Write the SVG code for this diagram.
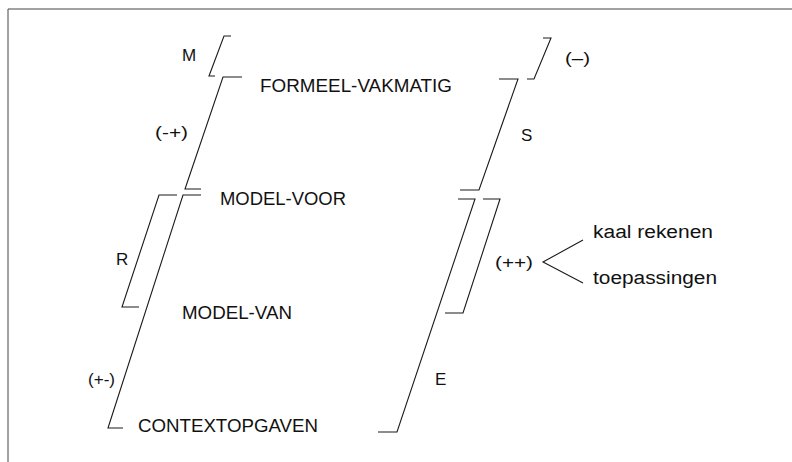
<svg xmlns="http://www.w3.org/2000/svg" width="792" height="462" viewBox="0 0 792 462">
<style>
  .t { font-family: "Liberation Sans", Arial, sans-serif; font-size: 18px; fill: #111; }
  .l { font-family: "Liberation Sans", Arial, sans-serif; font-size: 17px; fill: #111; }
  .b { fill: none; stroke: #1a1a1a; stroke-width: 1.1; stroke-linejoin: miter; }
  .f { fill: none; stroke: #444; stroke-width: 1; }
</style>
<rect width="792" height="462" fill="#ffffff"/>
<g id="frame">
  <polyline class="f" points="8,462 8,9 792,9"/>
</g>
<g id="connectors">
  <polyline class="b" points="231,36 224,36 209,76 215,76"/>
  <polyline class="b" points="242,77 223,77 185,189 201,189"/>
  <polyline class="b" points="177,195 159,195 122,307 139,307"/>
  <polyline class="b" points="201,195 183,195 108,428 123,428"/>
  <polyline class="b" points="543,38 551,38 534,79 527,79"/>
  <polyline class="b" points="499,79 518,79 479,190 460,190"/>
  <polyline class="b" points="483,199 500,199 463,313 445,313"/>
  <polyline class="b" points="458,199 475,199 397,432 378,432"/>
  <polyline class="b" points="583,240 543,262 583,283"/>
</g>
<g id="formeel-vakmatig"><text class="t" x="260" y="92" textLength="192" lengthAdjust="spacingAndGlyphs">FORMEEL-VAKMATIG</text></g>
<g id="model-voor"><text class="t" x="220" y="205" textLength="126" lengthAdjust="spacingAndGlyphs">MODEL-VOOR</text></g>
<g id="model-van"><text class="t" x="182" y="319" textLength="110" lengthAdjust="spacingAndGlyphs">MODEL-VAN</text></g>
<g id="contextopgaven"><text class="t" x="138" y="432" textLength="180" lengthAdjust="spacingAndGlyphs">CONTEXTOPGAVEN</text></g>
<g id="label-m"><text class="l" x="182" y="61">M</text></g>
<g id="label-minplus"><text class="l" x="155" y="138" textLength="33" lengthAdjust="spacingAndGlyphs">(-+)</text></g>
<g id="label-minmin"><text class="l" x="565" y="64" textLength="25" lengthAdjust="spacingAndGlyphs">(–)</text></g>
<g id="label-s"><text class="l" x="521" y="141">S</text></g>
<g id="label-r"><text class="l" x="116" y="265">R</text></g>
<g id="label-plusplus"><text class="l" x="495" y="268" textLength="38" lengthAdjust="spacingAndGlyphs">(++)</text></g>
<g id="label-plusmin"><text class="l" x="88" y="385" textLength="27" lengthAdjust="spacingAndGlyphs">(+-)</text></g>
<g id="label-e"><text class="l" x="435" y="385">E</text></g>
<g id="kaal-rekenen"><text class="t" x="593" y="238" textLength="120" lengthAdjust="spacingAndGlyphs">kaal rekenen</text></g>
<g id="toepassingen"><text class="t" x="593" y="284" textLength="124" lengthAdjust="spacingAndGlyphs">toepassingen</text></g>
</svg>
